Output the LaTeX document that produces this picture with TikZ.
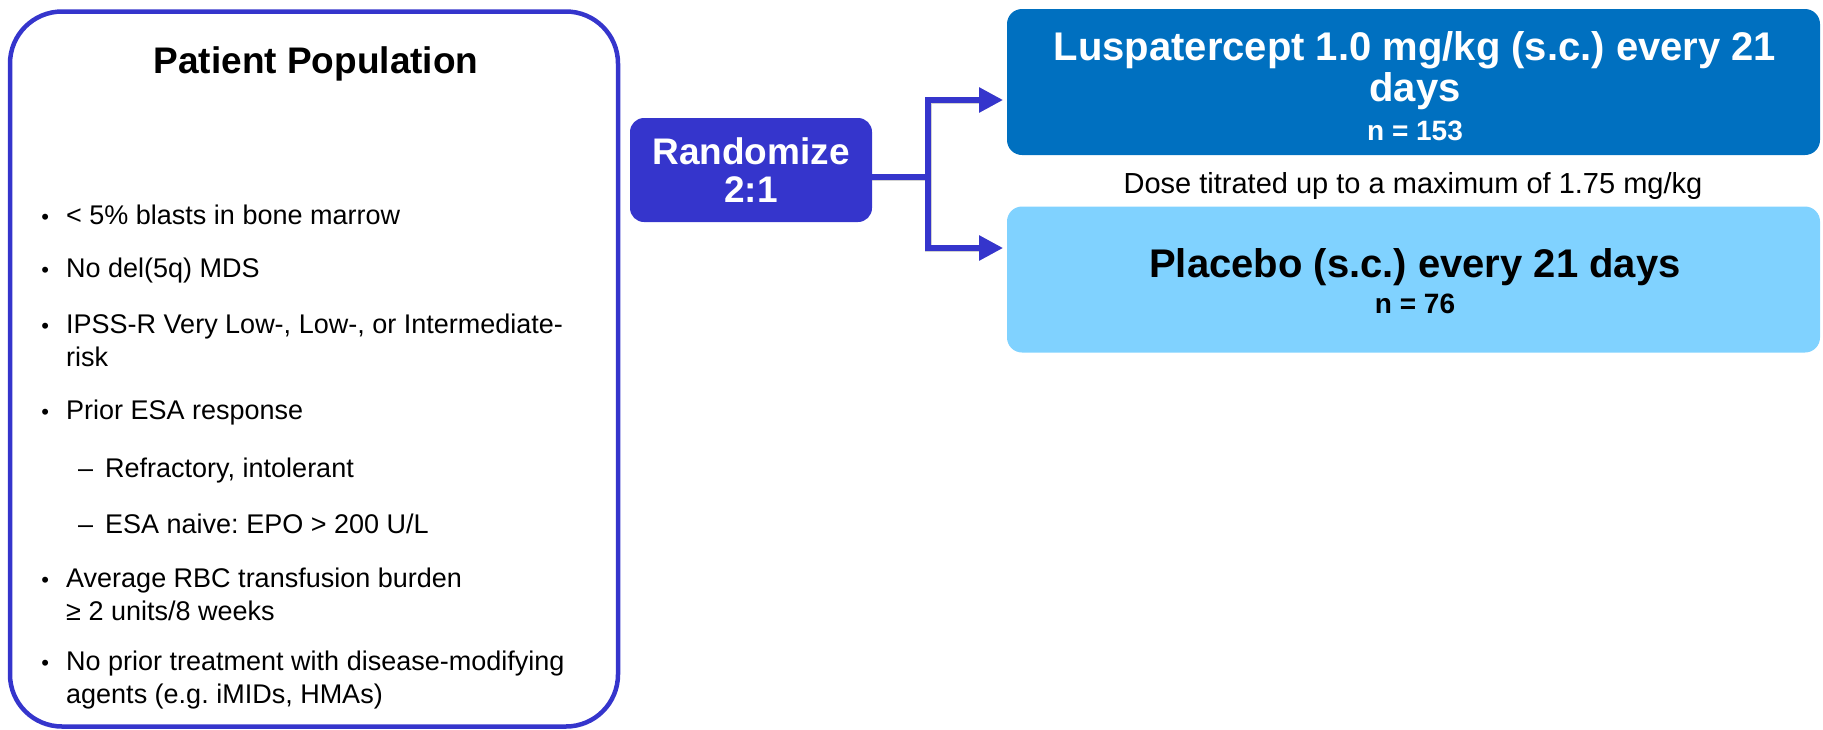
\documentclass[tikz,border=0pt]{standalone}
\usepackage{fontspec}
\setmainfont{Liberation Sans}
\usetikzlibrary{arrows.meta}
\frenchspacing

\definecolor{frameblue}{RGB}{53,53,204}
\definecolor{armdark}{RGB}{0,112,192}
\definecolor{armlight}{RGB}{128,210,255}

\begin{document}
\begin{tikzpicture}[x=1pt,y=-1pt,
  txt/.style={inner sep=0pt, anchor=base west, align=left,
    font=\fontsize{27}{33}\selectfont},
  titletxt/.style={inner sep=0pt, anchor=base,
    font=\fontsize{37}{37}\selectfont\bfseries},
  armtxt/.style={inner sep=0pt, anchor=base,
    font=\fontsize{40}{41}\selectfont\bfseries},
  ntxt/.style={inner sep=0pt, anchor=base,
    font=\fontsize{28}{28}\selectfont\bfseries},
  armbox/.style={rectangle, rounded corners=15pt, minimum width=813pt,
    minimum height=146pt, inner sep=0pt},
  conn/.style={line width=5.5pt, frameblue},
  connshadow/.style={line width=7pt, black!45, opacity=0.4},
  tip/.style={-{Triangle[length=24pt,width=24pt]}}
]
\useasboundingbox (0,0) rectangle (1823,729);

% patient population panel
\node[draw=frameblue, line width=4.5pt, rounded corners=52pt, rectangle,
  minimum width=608pt, minimum height=715pt, inner sep=0pt] (pop) at (314,369) {};
\node[titletxt] (poptitle) at (316,73) {Patient Population};

\newcommand{\bul}{\llap{\fontsize{22}{22}\selectfont•\hspace{17pt}}}
\newcommand{\subdash}{\llap{–\hspace{12pt}}}

% multi-line items are placed by the baseline of their last line
\node[txt] (c1) at (66,224) {\bul< 5\% blasts in bone marrow};
\node[txt] (c2) at (66,277) {\bul No del(5q) MDS};
\node[txt] (c3) at (66,366) {\bul IPSS-R Very Low-, Low-, or Intermediate-\\risk};
\node[txt] (c4) at (66,419) {\bul Prior ESA response};
\node[txt] (c4a) at (105,477) {\subdash Refractory, intolerant};
\node[txt] (c4b) at (105,533) {\subdash ESA naive: EPO > 200 U/L};
\node[txt] (c5) at (66,620) {\bul Average RBC transfusion burden\\≥ 2 units/8 weeks};
\node[txt] (c6) at (66,703) {\bul No prior treatment with disease-modifying\\agents (e.g. iMIDs, HMAs)};

% randomisation
\node[rectangle, fill=frameblue, rounded corners=14pt, minimum width=242pt,
  minimum height=104pt, inner sep=0pt, text=white, align=center,
  font=\fontsize{37}{38}\selectfont\bfseries] (rand) at (751,170) {Randomize\\2:1};

% treatment arms
\node[armbox, fill=armdark] (arm1) at (1413.5,82) {};
\node[armtxt, text=white] (arm1a) at (1415,60) {Luspatercept 1.0 mg/kg (s.c.) every 21};
\node[armtxt, text=white] (arm1b) at (1415,101) {days};
\node[ntxt, text=white] (arm1n) at (1415,140) {n = 153};

\node[inner sep=0pt, anchor=base, font=\fontsize{29}{29}\selectfont] (dose) at (1413,193)
  {Dose titrated up to a maximum of 1.75 mg/kg};

\node[armbox, fill=armlight] (arm2) at (1413.5,279.5) {};
\node[armtxt] (arm2a) at (1415,277) {Placebo (s.c.) every 21 days};
\node[ntxt] (arm2n) at (1415,313) {n = 76};

% branching connector
\coordinate (junc) at (928,177);
\coordinate (in1) at (1003,100);
\coordinate (in2) at (1003,248);

\begin{scope}[shift={(3,4)}]
  \draw[connshadow] ([yshift=-7pt]rand.east) -- (junc);
  \draw[connshadow, tip] (junc) |- (in1);
  \draw[connshadow, tip] (junc) |- (in2);
\end{scope}
\draw[conn] ([yshift=-7pt]rand.east) -- (junc);
\draw[conn, tip] (junc) |- (in1);
\draw[conn, tip] (junc) |- (in2);
\end{tikzpicture}
\end{document}
